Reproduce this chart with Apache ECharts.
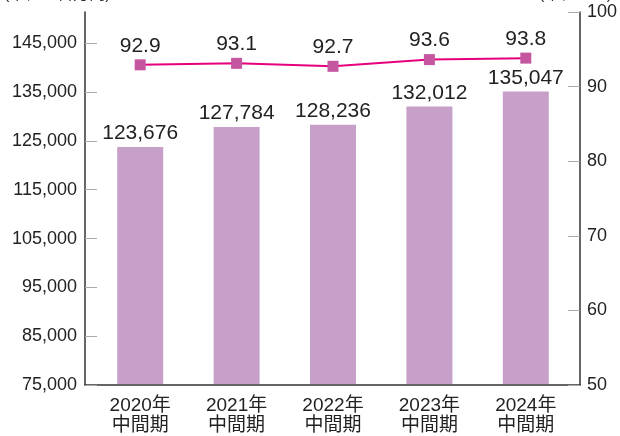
<!DOCTYPE html>
<html><head><meta charset="utf-8">
<script src="https://cdn.jsdelivr.net/npm/echarts@6/dist/echarts.min.js"></script>
<style>html,body{margin:0;padding:0;background:#fff}#c{width:620px;height:436px}</style>
</head><body><div id="c"></div>
<script>
const categories = ['2020年\n中間期', '2021年\n中間期', '2022年\n中間期', '2023年\n中間期', '2024年\n中間期'];
const salesValues = [123676, 127784, 128236, 132012, 135047];
const ratioValues = [92.9, 93.1, 92.7, 93.6, 93.8];
const leftTicks = [75000, 85000, 95000, 105000, 115000, 125000, 135000, 145000];
const leftMin = 75000, leftMax = 151400;
const rightMin = 50, rightMax = 100, rightInterval = 10;

const FONT = '"Liberation Sans", "Noto Sans CJK JP", sans-serif';
const fmt = v => Number(v).toLocaleString('en-US');

const chart = echarts.init(document.getElementById('c'), null, {renderer: 'canvas'});
chart.setOption({
  animation: false,
  textStyle: {fontFamily: FONT},
  grid: [
    {left: 85, right: 38, top: 12, bottom: 51},
    {left: 92, right: 46, top: 12, bottom: 51}
  ],
  xAxis: [
    {gridIndex: 0, type: 'category', data: categories,
      axisLine: {lineStyle: {color: '#333', width: 1.5}}, axisTick: {show: false}, axisLabel: {show: false}},
    {gridIndex: 1, type: 'category', data: categories,
      axisLine: {show: false}, axisTick: {show: false},
      axisLabel: {fontSize: 19, lineHeight: 20, color: '#222', margin: 12, fontFamily: FONT}}
  ],
  yAxis: [
    {gridIndex: 0, type: 'value', position: 'left', min: leftMin, max: leftMax,
      axisLine: {show: true, lineStyle: {color: '#333', width: 1.5}},
      axisTick: {show: true, inside: true, length: 12, customValues: leftTicks, lineStyle: {color: '#aaa'}},
      axisLabel: {customValues: leftTicks, formatter: fmt, fontSize: 18, color: '#222', margin: 8, fontFamily: FONT},
      splitLine: {show: false}},
    {gridIndex: 0, type: 'value', position: 'right', min: rightMin, max: rightMax, interval: rightInterval,
      axisLine: {show: true, lineStyle: {color: '#333', width: 1.5}},
      axisTick: {show: true, inside: true, length: 12, lineStyle: {color: '#aaa'}},
      axisLabel: {fontSize: 18, color: '#222', margin: 7, fontFamily: FONT},
      splitLine: {show: false}},
    {gridIndex: 1, type: 'value', show: false, min: leftMin, max: leftMax, splitLine: {show: false}},
    {gridIndex: 1, type: 'value', show: false, min: rightMin, max: rightMax, splitLine: {show: false}}
  ],
  series: [
    {type: 'bar', xAxisIndex: 1, yAxisIndex: 2, data: salesValues, barWidth: 46,
      itemStyle: {color: '#c7a0c9'},
      label: {show: true, position: 'top', distance: 3, fontSize: 21, color: '#222', formatter: p => fmt(p.value), fontFamily: FONT}},
    {type: 'line', xAxisIndex: 1, yAxisIndex: 3, data: ratioValues, symbol: 'rect', symbolSize: 11,
      itemStyle: {color: '#c4579f'}, lineStyle: {color: '#e6007e', width: 2},
      label: {show: true, position: 'top', distance: 3, fontSize: 21, color: '#222', formatter: p => p.value.toFixed(1), fontFamily: FONT},
      z: 5}
  ],
  graphic: [
    {type: 'text', left: 4, top: -13, style: {text: '(単位：百万円)', fontSize: 16, fill: '#333', fontFamily: FONT}},
    {type: 'text', right: 8, top: -13, style: {text: '(単位：%)', fontSize: 16, fill: '#333', fontFamily: FONT}}
  ]
});
</script></body></html>
